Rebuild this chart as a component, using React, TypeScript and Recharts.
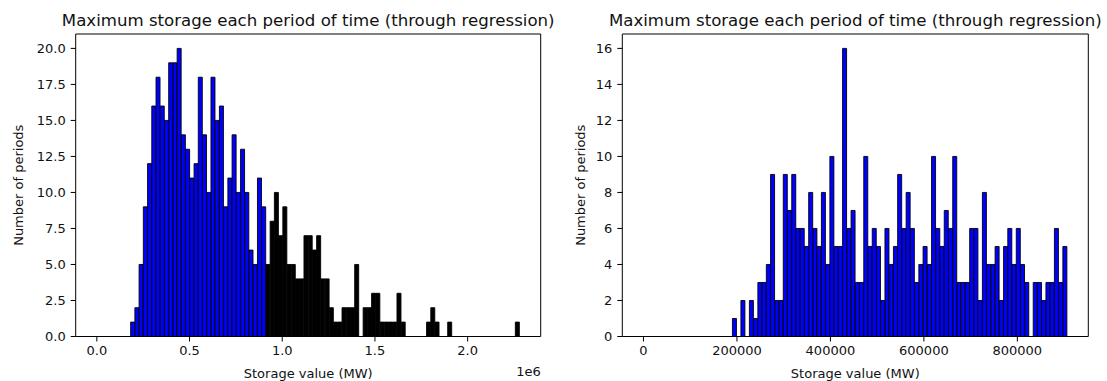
import { BarChart, Bar, XAxis, YAxis, Cell, ReferenceLine } from "recharts";

const BINS = 100;
const FONT = "DejaVu Sans";
const TITLE = "Maximum storage each period of time (through regression)";

// left histogram: bins span [0, leftMax], blue up to leftFirstBlackBin, black after
const leftMax = 2280000;
const leftFirstBlackBin = 40;
const leftCounts = [
  0, 0, 0, 0, 0, 0, 0, 0,
  1, 2, 5, 9, 12, 16, 18, 16, 15, 19, 19, 20, 14, 13, 11, 12, 18, 14, 10, 18, 15, 16, 9, 11,
  14, 10, 13, 10, 6, 5, 11, 9,
  5, 8, 10, 7, 9, 5, 5, 4, 4, 7, 7, 6, 7, 4, 4, 2, 1, 1, 2, 2, 2, 5, 0, 2, 2, 3, 3, 1, 1, 1,
  1, 3, 1,
  0, 0, 0, 0, 0, 1, 2, 1, 0, 0, 1,
  0, 0, 0, 0, 0, 0, 0, 0, 0, 0, 0, 0, 0, 0, 0, 1,
];
const leftXTicks = [0, 500000, 1000000, 1500000, 2000000];
const leftYTicks = [0, 2.5, 5, 7.5, 10, 12.5, 15, 17.5, 20];

// right histogram: bins span [0, rightMax]
const rightMax = 906500;
const rightCounts = [
  0, 0, 0, 0, 0, 0, 0, 0, 0, 0, 0, 0, 0, 0, 0, 0, 0, 0, 0, 0, 0,
  1, 0, 2, 0, 2, 1, 3, 3, 4, 9, 2, 2, 9, 7, 9, 6, 6, 5, 8, 6, 5, 8, 4, 10, 5, 5, 16,
  6, 7, 3, 3, 10, 5, 6, 5, 2, 6, 4, 5, 9, 6, 8, 6, 3, 4, 5, 4, 10, 6, 5, 7, 6, 10,
  3, 3, 3, 6, 6, 2, 8, 4, 4, 5, 2, 5, 6, 4, 6, 4, 3, 0, 3, 3, 2, 3, 3, 6, 3, 5,
];
const rightXTicks = [0, 200000, 400000, 600000, 800000];
const rightYTicks = [0, 2, 4, 6, 8, 10, 12, 14, 16];

const tickStyle = { fontSize: 13, fill: "#111", fontFamily: FONT };

type HistProps = {
  counts: number[];
  max: number;
  yMax: number;
  xTicks: number[];
  yTicks: number[];
  xFmt: (v: number) => string;
  yFmt: (v: number) => string;
  color: (i: number) => string;
  left: number;
  width: number;
  yAxisWidth: number;
  rightMargin: number;
  yLabelOffset: number;
  offsetText?: string;
};

function Histogram(p: HistProps) {
  const data = p.counts.map((count, i) => ({ x: ((i + 0.5) * p.max) / BINS, count }));
  const plotLeft = p.left + p.yAxisWidth;
  const plotRight = p.left + p.width - p.rightMargin;
  return (
    <>
      <div
        style={{
          position: "absolute",
          left: plotLeft - 100,
          width: plotRight - plotLeft + 200,
          top: 13,
          textAlign: "center",
          fontSize: 16.6,
          lineHeight: 1,
          fontFamily: FONT,
          color: "#111",
          whiteSpace: "nowrap",
        }}
      >
        {TITLE}
      </div>
      {p.offsetText && (
        <div
          style={{
            position: "absolute",
            left: plotRight - 60,
            width: 60,
            top: 365,
            textAlign: "right",
            fontSize: 13,
            lineHeight: 1,
            fontFamily: FONT,
            color: "#111",
          }}
        >
          {p.offsetText}
        </div>
      )}
      <div style={{ position: "absolute", left: p.left, top: 0 }}>
        <BarChart
          width={p.width}
          height={381}
          data={data}
          margin={{ top: 34, right: p.rightMargin, bottom: 0, left: 0 }}
          barCategoryGap={0}
          barGap={0}
        >
          <XAxis
            dataKey="x"
            type="number"
            domain={[-0.05 * p.max, 1.05 * p.max]}
            allowDataOverflow
            ticks={p.xTicks}
            tickFormatter={p.xFmt}
            height={44.5}
            tickSize={5}
            tickMargin={4}
            tick={tickStyle}
            axisLine={{ stroke: "#000" }}
            tickLine={{ stroke: "#000" }}
            label={{
              value: "Storage value (MW)",
              position: "insideBottom",
              offset: 3,
              style: { fontSize: 13, fill: "#111", fontFamily: FONT },
            }}
          />
          <YAxis
            type="number"
            domain={[0, p.yMax]}
            allowDataOverflow
            ticks={p.yTicks}
            tickFormatter={p.yFmt}
            width={p.yAxisWidth}
            tickSize={5}
            tickMargin={5}
            tick={tickStyle}
            axisLine={{ stroke: "#000" }}
            tickLine={{ stroke: "#000" }}
            label={{
              value: "Number of periods",
              angle: -90,
              position: "insideLeft",
              offset: p.yLabelOffset,
              style: { fontSize: 13, fill: "#111", fontFamily: FONT, textAnchor: "middle" },
            }}
          />
          <ReferenceLine y={p.yMax} stroke="#000" />
          <ReferenceLine x={1.05 * p.max} stroke="#000" />
          <Bar dataKey="count" isAnimationActive={false} stroke="#000" strokeWidth={0.9}>
            {data.map((_, i) => (
              <Cell key={i} fill={p.color(i)} />
            ))}
          </Bar>
        </BarChart>
      </div>
    </>
  );
}

export default function App() {
  return (
    <div style={{ position: "absolute", left: 0, top: 0, width: 1107, height: 381, background: "#fff" }}>
      <Histogram
        counts={leftCounts}
        max={leftMax}
        yMax={21}
        xTicks={leftXTicks}
        yTicks={leftYTicks}
        xFmt={(v) => (v / 1e6).toFixed(1)}
        yFmt={(v) => v.toFixed(1)}
        color={(i) => (i < leftFirstBlackBin ? "#0000ff" : "#000000")}
        left={0}
        width={560}
        yAxisWidth={75.7}
        rightMargin={19.3}
        yLabelOffset={18}
        offsetText="1e6"
      />
      <Histogram
        counts={rightCounts}
        max={rightMax}
        yMax={16.8}
        xTicks={rightXTicks}
        yTicks={rightYTicks}
        xFmt={(v) => String(v)}
        yFmt={(v) => String(v)}
        color={() => "#0000ff"}
        left={560}
        width={547}
        yAxisWidth={62.3}
        rightMargin={18.7}
        yLabelOffset={20}
      />
    </div>
  );
}
